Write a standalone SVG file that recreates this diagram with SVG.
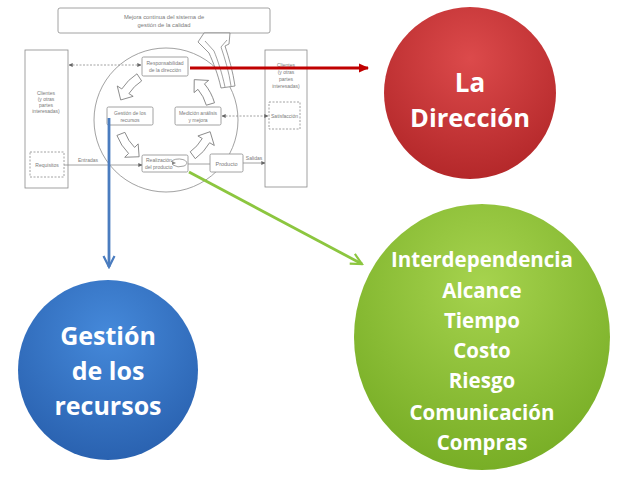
<svg xmlns="http://www.w3.org/2000/svg" width="625" height="493" viewBox="0 0 625 493">
<style>
.gl{fill:none;stroke:#8a8a8a;stroke-width:0.8}
.gb{fill:#fff;stroke:#8a8a8a;stroke-width:0.8}
.gd{fill:none;stroke:#8a8a8a;stroke-width:0.8;stroke-dasharray:2 1.5}
.ca{fill:#fff;stroke:#7c7c7c;stroke-width:0.8}
.gt{font-family:"Liberation Sans",Arial,sans-serif;font-size:5px;fill:#7a7a7a;text-anchor:middle}
.big{font-family:"Open Sans","DejaVu Sans",sans-serif;font-weight:bold;fill:#fff;text-anchor:middle}
</style>
<defs>
<marker id="ga" viewBox="0 0 6 6" refX="5.5" refY="3" markerWidth="4" markerHeight="4" markerUnits="userSpaceOnUse" orient="auto-start-reverse"><path d="M0,0 L6,3 L0,6 z" fill="#666"/></marker>
<marker id="ra" viewBox="0 0 10 10" refX="9" refY="5" markerWidth="10" markerHeight="10" markerUnits="userSpaceOnUse" orient="auto"><path d="M0,0.5 L10,5 L0,9.5 z" fill="#c00000"/></marker>
<marker id="ba" viewBox="0 0 14 14" refX="12" refY="7" markerWidth="14" markerHeight="14" markerUnits="userSpaceOnUse" orient="auto"><path d="M1,1.5 L12,7 L1,12.5" fill="none" stroke="#4a7cbf" stroke-width="2.2"/></marker>
<marker id="gra" viewBox="0 0 14 14" refX="12" refY="7" markerWidth="14" markerHeight="14" markerUnits="userSpaceOnUse" orient="auto"><path d="M1,1.5 L12,7 L1,12.5" fill="none" stroke="#8cc63f" stroke-width="2.2"/></marker>
<radialGradient id="gRed" cx="50%" cy="30%" r="70%"><stop offset="0" stop-color="#dc4a4b"/><stop offset="1" stop-color="#b4282a"/></radialGradient>
<radialGradient id="gBlue" cx="50%" cy="30%" r="70%"><stop offset="0" stop-color="#4589da"/><stop offset="1" stop-color="#2a62b0"/></radialGradient>
<radialGradient id="gGreen" cx="50%" cy="30%" r="70%"><stop offset="0" stop-color="#a6d34e"/><stop offset="1" stop-color="#78ae26"/></radialGradient>
<path id="carc" d="M49.5,14.2 A51.5,51.5 0 0 0 51.0,-7.2 L56.4,-7.9 L44.6,-16.2 L37.6,-5.3 L42.6,-6.0 A43,43 0 0 1 41.3,11.9 Z"/>
</defs>
<rect width="625" height="493" fill="#fff"/>

<g id="iso-model">
  <g id="mejora">
    <rect class="gb" x="58" y="8" width="212" height="25" rx="2"/>
    <text class="gt" x="164" y="19" style="font-size:5.8px">Mejora continua del sistema de</text>
    <text class="gt" x="164" y="27" style="font-size:5.8px">gestión de la calidad</text>
  </g>
  <g id="clientes-izq">
    <rect class="gb" x="25" y="50" width="43" height="138"/>
    <text class="gt" x="46" y="95">Clientes</text>
    <text class="gt" x="46" y="101">(y otras</text>
    <text class="gt" x="46" y="107">partes</text>
    <text class="gt" x="46" y="113">interesadas)</text>
  </g>
  <g id="requisitos">
    <rect class="gd" x="30" y="152" width="34" height="25"/>
    <text class="gt" x="47" y="166.5">Requisitos</text>
  </g>
  <g id="clientes-der">
    <rect class="gb" x="265" y="50" width="42" height="137"/>
    <text class="gt" x="286" y="67">Clientes</text>
    <text class="gt" x="286" y="74">(y otras</text>
    <text class="gt" x="286" y="81">partes</text>
    <text class="gt" x="286" y="88">interesadas)</text>
  </g>
  <g id="satisfaccion">
    <rect class="gd" x="269" y="102" width="31" height="27"/>
    <text class="gt" x="284.5" y="117.5">Satisfacción</text>
  </g>
  <circle class="gl" cx="166" cy="120" r="72"/>
  <g id="responsabilidad">
    <rect class="gb" x="142" y="57" width="46" height="19" rx="1.5"/>
    <text class="gt" x="165" y="65">Responsabilidad</text>
    <text class="gt" x="165" y="72">de la dirección</text>
  </g>
  <g id="gestion-rec">
    <rect class="gb" x="107" y="107" width="46" height="18" rx="1.5"/>
    <text class="gt" x="130" y="114.5">Gestión de los</text>
    <text class="gt" x="130" y="121.5">recursos</text>
  </g>
  <g id="medicion">
    <rect class="gb" x="175" y="107" width="46" height="18" rx="1.5"/>
    <text class="gt" x="198" y="114.5">Medición análisis</text>
    <text class="gt" x="198" y="121.5">y mejora</text>
  </g>
  <g id="realizacion">
    <rect class="gb" x="142" y="155" width="46" height="17" rx="1.5"/>
    <text class="gt" x="146" y="162" style="text-anchor:start">Realización</text>
    <text class="gt" x="145" y="169" style="text-anchor:start">del producto</text>
    <path class="gl" d="M171,162 A8,4 0 1 1 184,166 A8,4 0 0 1 173,165"/>
    <path d="M172,161 L176,163 L172,165 z" fill="#888"/>
  </g>
  <g id="producto">
    <rect class="gb" x="210" y="154" width="33" height="18" rx="1.5"/>
    <text class="gt" x="226.5" y="165.5" style="font-size:5.5px">Producto</text>
  </g>
  <g id="ciclo">
    <use href="#carc" class="ca" transform="translate(165,117) rotate(221)"/>
    <use href="#carc" class="ca" transform="translate(165,117) rotate(143)"/>
    <use href="#carc" class="ca" transform="translate(165,117) rotate(38)"/>
    <use href="#carc" class="ca" transform="translate(165,117) rotate(-32)"/>
    <path class="ca" d="M221,88 C218,74 213,62 209,53 L198,42 L204,33 L230,33 L229,44 L225,46 C229,58 233,72 235,86 Z"/>
    <path class="gl" d="M225,87 C222,73 218,61 214,51 L205,41 M227,40 L221,47 C225,59 229,72 231,86"/>
  </g>
  <g id="flujos">
    <line class="gd" x1="69" y1="65" x2="141" y2="65" marker-start="url(#ga)" marker-end="url(#ga)"/>
    <line class="gd" x1="222" y1="116" x2="268" y2="116" marker-start="url(#ga)" marker-end="url(#ga)"/>
    <line class="gl" x1="64" y1="165" x2="142" y2="165" marker-end="url(#ga)"/>
    <text class="gt" x="88" y="162">Entradas</text>
    <line class="gl" x1="188" y1="164" x2="210" y2="164"/>
    <line class="gl" x1="243" y1="163" x2="265" y2="163" marker-end="url(#ga)"/>
    <text class="gt" x="254" y="160">Salidas</text>
  </g>
</g>

<g id="connectors">
  <line x1="190" y1="68" x2="368" y2="68" stroke="#c00000" stroke-width="3" marker-end="url(#ra)"/>
  <line x1="109" y1="118" x2="109" y2="267" stroke="#4a7cbf" stroke-width="2.8" marker-end="url(#ba)"/>
  <line x1="189" y1="172" x2="362" y2="264" stroke="#8cc63f" stroke-width="2.8" marker-end="url(#gra)"/>
</g>

<g id="la-direccion">
  <circle cx="470" cy="93" r="86" fill="url(#gRed)"/>
  <text class="big" x="470" y="92" style="font-size:26px">La</text>
  <text class="big" x="470" y="127" style="font-size:25.5px">Dirección</text>
</g>

<g id="gestion-recursos">
  <circle cx="108" cy="370" r="90" fill="url(#gBlue)"/>
  <text class="big" x="108" y="345" style="font-size:25px">Gestión</text>
  <text class="big" x="108" y="380" style="font-size:25px">de los</text>
  <text class="big" x="108" y="415" style="font-size:25px">recursos</text>
</g>

<g id="areas">
  <ellipse cx="482" cy="337" rx="128" ry="133" fill="url(#gGreen)"/>
  <text class="big" x="482" y="267" style="font-size:20.5px">Interdependencia</text>
  <text class="big" x="482" y="298" style="font-size:20.5px">Alcance</text>
  <text class="big" x="482" y="328" style="font-size:20.5px">Tiempo</text>
  <text class="big" x="482" y="358" style="font-size:20.5px">Costo</text>
  <text class="big" x="482" y="388" style="font-size:20.5px">Riesgo</text>
  <text class="big" x="482" y="420" style="font-size:20.5px">Comunicación</text>
  <text class="big" x="482" y="450" style="font-size:20.5px">Compras</text>
</g>
</svg>
